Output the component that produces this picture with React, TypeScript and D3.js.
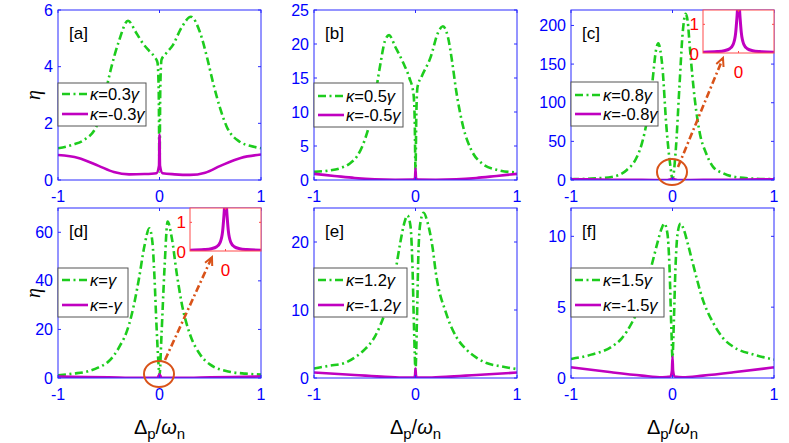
import React from "react";
import * as d3 from "d3";

// panel letters and coupling labels
const panelLetters = ["a", "b", "c", "d", "e", "f"];
const kappaLabels = ["0.3", "0.5", "0.8", "", "1.2", "1.5"];
const yMaxima = [6, 25, 220, 70, 25, 12];
const yTickSets = [
  [0, 2, 4, 6],
  [0, 5, 10, 15, 20, 25],
  [0, 50, 100, 150, 200],
  [0, 20, 40, 60],
  [0, 10, 20],
  [0, 5, 10],
];
const xTicks = [-1, 0, 1];

// eta vs Delta_p/omega_n, kappa > 0 (green, dash-dot)
const greenA = [[-1, 1.12], [-0.85, 1.25], [-0.75, 1.4], [-0.62, 1.9], [-0.55, 2.8], [-0.48, 3.9], [-0.4, 4.9], [-0.31, 5.62], [-0.23, 5.2], [-0.16, 4.8], [-0.1, 4.55], [-0.05, 4.35], [-0.02, 4.15], [-0.008, 3.2], [0, 0.3], [0.008, 3.3], [0.02, 4.25], [0.06, 4.45], [0.13, 4.75], [0.22, 5.4], [0.31, 5.76], [0.4, 5.2], [0.47, 4.3], [0.53, 3.4], [0.6, 2.5], [0.66, 1.9], [0.79, 1.35], [0.9, 1.2], [1, 1.12]];
const greenB = [[-1, 1.2], [-0.85, 1.4], [-0.75, 1.7], [-0.65, 2.4], [-0.58, 3.4], [-0.5, 5.9], [-0.42, 10.3], [-0.35, 16.7], [-0.3, 20.5], [-0.26, 21.3], [-0.2, 19.6], [-0.12, 17.2], [-0.06, 15], [-0.02, 12.7], [-0.008, 9], [0, 1.5], [0.008, 9.5], [0.02, 13.7], [0.06, 15.2], [0.15, 18.1], [0.22, 21.6], [0.27, 22.6], [0.32, 21], [0.36, 17.5], [0.4, 13.2], [0.47, 7.8], [0.55, 4.4], [0.65, 2.5], [0.8, 1.5], [1, 1.1]];
const greenC = [[-1, 1], [-0.8, 1.8], [-0.6, 4], [-0.45, 13], [-0.35, 30], [-0.3, 48], [-0.25, 78], [-0.2, 125], [-0.16, 170], [-0.14, 177], [-0.12, 168], [-0.1, 147], [-0.06, 69], [-0.02, 17], [0, 1], [0.03, 35], [0.07, 125], [0.1, 190], [0.13, 215], [0.15, 205], [0.17, 173], [0.22, 104], [0.27, 60], [0.33, 35], [0.4, 17], [0.5, 8.7], [0.6, 4.3], [0.8, 1.8], [1, 1]];
const greenD = [[-1, 1.1], [-0.85, 1.8], [-0.7, 2.8], [-0.6, 4.4], [-0.5, 6.9], [-0.4, 12.5], [-0.3, 22], [-0.25, 30.5], [-0.2, 41.5], [-0.15, 54], [-0.1, 61.6], [-0.07, 56], [-0.05, 42], [-0.03, 22], [-0.01, 6], [0, 1], [0.02, 18], [0.05, 45.7], [0.08, 64.4], [0.12, 58], [0.17, 43], [0.22, 30.5], [0.3, 18], [0.4, 9.7], [0.5, 5.5], [0.7, 2.5], [0.85, 1.8], [1, 1.4]];
const greenE = [[-1, 1.4], [-0.85, 1.8], [-0.7, 2.2], [-0.6, 3], [-0.5, 4.2], [-0.4, 6.1], [-0.3, 9.6], [-0.25, 12], [-0.2, 15.5], [-0.15, 19.9], [-0.11, 22.8], [-0.08, 23.9], [-0.05, 22.4], [-0.03, 16.5], [-0.015, 7.6], [0, 1.2], [0.015, 9], [0.03, 19], [0.05, 23], [0.08, 24.3], [0.12, 22.8], [0.17, 19], [0.2, 15.5], [0.3, 9.6], [0.4, 6.1], [0.5, 4.2], [0.6, 3], [0.7, 2.2], [0.85, 1.7], [1, 1.3]];
const greenF = [[-1, 1.34], [-0.8, 1.65], [-0.6, 2.2], [-0.5, 2.8], [-0.4, 3.9], [-0.3, 5.5], [-0.2, 8.1], [-0.15, 9.5], [-0.11, 10.5], [-0.08, 10.9], [-0.05, 10.2], [-0.03, 7.9], [-0.01, 3.2], [0, 1.4], [0.01, 3.2], [0.03, 7.9], [0.05, 10.2], [0.08, 10.9], [0.11, 10.5], [0.15, 9.5], [0.2, 8.1], [0.3, 5.5], [0.4, 3.9], [0.5, 2.8], [0.6, 2.2], [0.8, 1.65], [1, 1.3]];

// kappa < 0 (magenta, solid)
const magentaA = [[-1, 0.88], [-0.8, 0.78], [-0.6, 0.5], [-0.45, 0.28], [-0.3, 0.2], [-0.15, 0.21], [-0.03, 0.24], [-0.005, 0.5], [0, 1.6], [0.005, 0.5], [0.03, 0.24], [0.15, 0.2], [0.3, 0.18], [0.45, 0.26], [0.6, 0.5], [0.8, 0.78], [1, 0.9]];
const magentaB = [[-1, 0.9], [-0.8, 0.6], [-0.6, 0.3], [-0.4, 0.1], [-0.2, 0.03], [-0.02, 0.05], [-0.005, 0.3], [0, 1.7], [0.005, 0.3], [0.02, 0.05], [0.2, 0.03], [0.4, 0.1], [0.6, 0.3], [0.8, 0.6], [1, 0.9]];
const magentaC = [[-1, 1], [-0.6, 0.4], [-0.3, 0.1], [-0.05, 0.05], [0, 1.5], [0.05, 0.05], [0.3, 0.1], [0.6, 0.4], [1, 1]];
const magentaD = [[-1, 0.6], [-0.5, 0.25], [-0.2, 0.05], [-0.02, 0.1], [0, 1.5], [0.02, 0.1], [0.2, 0.05], [0.5, 0.25], [1, 0.6]];
const magentaE = [[-1, 0.8], [-0.6, 0.45], [-0.3, 0.18], [-0.1, 0.05], [-0.01, 0.1], [-0.004, 0.5], [0, 1.4], [0.004, 0.5], [0.01, 0.1], [0.1, 0.05], [0.3, 0.18], [0.6, 0.45], [1, 0.8]];
const magentaF = [[-1, 0.75], [-0.6, 0.4], [-0.3, 0.17], [-0.1, 0.05], [-0.02, 0.1], [-0.006, 0.5], [0, 1.5], [0.006, 0.5], [0.02, 0.1], [0.1, 0.05], [0.3, 0.17], [0.6, 0.4], [1, 0.75]];

// zoomed view of the kappa<0 peak (insets of c and d)
const insetPeak = [[-0.1, 0.03], [-0.06, 0.05], [-0.04, 0.08], [-0.025, 0.15], [-0.015, 0.3], [-0.008, 0.7], [-0.004, 1.3], [0, 2], [0.004, 1.3], [0.008, 0.7], [0.015, 0.3], [0.025, 0.15], [0.04, 0.08], [0.06, 0.05], [0.1, 0.03]];
const insetXDomain = [-0.1, 0.1];
const insetYDomain = [0, 1.5];

const greens = [greenA, greenB, greenC, greenD, greenE, greenF];
const magentas = [magentaA, magentaB, magentaC, magentaD, magentaE, magentaF];

// layout
const W = 789;
const H = 443;
const COLS = [58, 314, 571];
const ROWS = [10, 208];
const PW = 203;
const PH = 170;
const LEGENDS = [
  { top: 73, w: 88, h: 43, r1: 11, r2: 31 },
  { top: 73, w: 89, h: 44, r1: 13, r2: 32 },
  { top: 72, w: 87, h: 44, r1: 13, r2: 32 },
  { top: 60, w: 70, h: 49, r1: 12, r2: 37 },
  { top: 60, w: 93, h: 49, r1: 12, r2: 37 },
  { top: 60, w: 93, h: 49, r1: 12, r2: 37 },
];
const ANNOT: Record<number, { cx: number; cy: number; x1: number; y1: number; x2: number; y2: number }> = {
  2: { cx: 101, cy: 162, x1: 107, y1: 157, x2: 152, y2: 48 },
  3: { cx: 101, cy: 166, x1: 107, y1: 152, x2: 154, y2: 49 },
};

const FONT = "'Liberation Sans', Arial, Helvetica, sans-serif";
const AXIS = "#2b2bff";
const TICKTXT = "#0000ff";
const GREEN = "#1dcc1d";
const MAGENTA = "#c000c0";
const ORANGE = "#d95319";
const INSET_RED = "#ff4a4a";

const Inset: React.FC<{ x0: number; y0: number; w: number; h: number; id: string }> = ({ x0, y0, w, h, id }) => {
  const xs = d3.scaleLinear().domain(insetXDomain).range([x0, x0 + w]);
  const ys = d3.scaleLinear().domain(insetYDomain).range([y0 + h, y0]);
  const line = d3
    .line<number[]>()
    .x((d) => xs(d[0]))
    .y((d) => ys(d[1]))
    .curve(d3.curveMonotoneX);
  return (
    <g>
      <clipPath id={id}>
        <rect x={x0} y={y0} width={w} height={h} />
      </clipPath>
      <rect x={x0} y={y0} width={w} height={h} fill="#fff" />
      <path d={line(insetPeak) || ""} fill="none" stroke={MAGENTA} strokeWidth={3} clipPath={`url(#${id})`} />
      <rect x={x0} y={y0} width={w} height={h} fill="none" stroke={INSET_RED} strokeWidth={1} />
      <line x1={xs(0)} x2={xs(0)} y1={y0 + h} y2={y0 + h - 2} stroke={INSET_RED} />
      <line x1={xs(0)} x2={xs(0)} y1={y0} y2={y0 + 2} stroke={INSET_RED} />
      <line x1={x0} x2={x0 + 2} y1={ys(1)} y2={ys(1)} stroke={INSET_RED} />
      <line x1={x0 + w} x2={x0 + w - 2} y1={ys(1)} y2={ys(1)} stroke={INSET_RED} />
      <g fill="#ff0000" fontSize={17} fontFamily={FONT}>
        <text x={x0 - 4} y={ys(1)} textAnchor="end" dominantBaseline="central">1</text>
        <text x={x0 - 4} y={ys(0) + 1} textAnchor="end" dominantBaseline="central">0</text>
        <text x={xs(0)} y={y0 + h + 19} textAnchor="middle" dominantBaseline="central">0</text>
      </g>
    </g>
  );
};

const Panel: React.FC<{ i: number }> = ({ i }) => {
  const left = COLS[i % 3];
  const top = ROWS[Math.floor(i / 3)];
  const right = left + PW;
  const bottom = top + PH;
  const x = d3.scaleLinear().domain([-1, 1]).range([left, right]);
  const y = d3.scaleLinear().domain([0, yMaxima[i]]).range([bottom, top]);
  const line = d3
    .line<number[]>()
    .x((d) => x(d[0]))
    .y((d) => y(d[1]))
    .curve(d3.curveMonotoneX);
  const clipId = `clip-${i}`;
  const lg = LEGENDS[i];
  const lx = left;
  const ly = top + lg.top;
  const k = kappaLabels[i];
  const an = ANNOT[i];

  return (
    <g>
      <clipPath id={clipId}>
        <rect x={left} y={top} width={PW} height={PH} />
      </clipPath>
      <g clipPath={`url(#${clipId})`}>
        <path d={line(greens[i]) || ""} fill="none" stroke={GREEN} strokeWidth={2.6} strokeDasharray="8,3.5,2,3.5" />
        <path d={line(magentas[i]) || ""} fill="none" stroke={MAGENTA} strokeWidth={2.6} />
      </g>
      {/* axes box */}
      <rect x={left} y={top} width={PW} height={PH} fill="none" stroke={AXIS} strokeWidth={1} />
      {yTickSets[i].map((t) => (
        <g key={`y${t}`}>
          <line x1={left} x2={left + 3} y1={y(t)} y2={y(t)} stroke={AXIS} />
          <line x1={right} x2={right - 3} y1={y(t)} y2={y(t)} stroke={AXIS} />
          <text x={left - 5} y={y(t)} textAnchor="end" dominantBaseline="central" fill={TICKTXT} fontSize={16} fontFamily={FONT}>
            {t}
          </text>
        </g>
      ))}
      {xTicks.map((t) => (
        <g key={`x${t}`}>
          <line x1={x(t)} x2={x(t)} y1={bottom} y2={bottom - 3} stroke={AXIS} />
          <line x1={x(t)} x2={x(t)} y1={top} y2={top + 3} stroke={AXIS} />
          <text x={x(t)} y={bottom + 16} textAnchor="middle" dominantBaseline="central" fill={TICKTXT} fontSize={16} fontFamily={FONT}>
            {t === -1 ? "-1" : t}
          </text>
        </g>
      ))}
      <text x={left + 11} y={top + 29} fontSize={17} fontFamily={FONT} fill="#000">
        [{panelLetters[i]}]
      </text>
      {/* legend */}
      <g fontFamily={FONT} fontSize={16.5} fill="#000">
        <rect x={lx} y={ly} width={lg.w} height={lg.h} fill="#fff" stroke="#555" strokeWidth={1} />
        <line x1={lx + 4} x2={lx + 30} y1={ly + lg.r1} y2={ly + lg.r1} stroke={GREEN} strokeWidth={2.6} strokeDasharray="8,3.5,2,3.5" />
        <line x1={lx + 4} x2={lx + 30} y1={ly + lg.r2} y2={ly + lg.r2} stroke={MAGENTA} strokeWidth={2.6} />
        <text x={lx + 32} y={ly + lg.r1} dominantBaseline="central">
          <tspan fontStyle="italic">κ</tspan>={k}
          <tspan fontStyle="italic">γ</tspan>
        </text>
        <text x={lx + 32} y={ly + lg.r2} dominantBaseline="central">
          <tspan fontStyle="italic">κ</tspan>=-{k}
          <tspan fontStyle="italic">γ</tspan>
        </text>
      </g>
      {an && (
        <g>
          <ellipse cx={left + an.cx} cy={top + an.cy} rx={15} ry={13} fill="none" stroke={ORANGE} strokeWidth={2} />
          <line x1={left + an.x1} y1={top + an.y1} x2={left + an.x2} y2={top + an.y2} stroke={ORANGE} strokeWidth={2.6} strokeDasharray="7,3,2,3" />
          {(() => {
            const ang = Math.atan2(an.y2 - an.y1, an.x2 - an.x1);
            const tx = left + an.x2;
            const ty = top + an.y2;
            const L = 9;
            const a1 = ang + Math.PI - 0.45;
            const a2 = ang + Math.PI + 0.45;
            return (
              <path
                d={`M${tx + L * Math.cos(a1)},${ty + L * Math.sin(a1)}L${tx},${ty}L${tx + L * Math.cos(a2)},${ty + L * Math.sin(a2)}`}
                fill="none"
                stroke={ORANGE}
                strokeWidth={2}
              />
            );
          })()}
          <Inset x0={right - 71} y0={top} w={71} h={43} id={`inset-${i}`} />
        </g>
      )}
      {/* x label on bottom row */}
      {i >= 3 && (
        <text x={(left + right) / 2} y={434} textAnchor="middle" fontSize={20} fontFamily={FONT} fill="#000">
          Δ<tspan fontSize={15} dy={5}>p</tspan>
          <tspan dy={-5}>/</tspan>
          <tspan fontStyle="italic">ω</tspan>
          <tspan fontSize={15} dy={5}>n</tspan>
        </text>
      )}
      {/* y label on left column */}
      {i % 3 === 0 && (
        <text
          transform={`translate(33,${(top + bottom) / 2}) rotate(-90)`}
          textAnchor="middle"
          dominantBaseline="central"
          fontSize={20}
          fontStyle="italic"
          fontFamily="'Liberation Serif', 'Times New Roman', serif"
          fill="#000"
        >
          η
        </text>
      )}
    </g>
  );
};

export default function App() {
  return (
    <svg width={W} height={H} style={{ position: "absolute", left: 0, top: 0, background: "#fff" }}>
      <rect width={W} height={H} fill="#fff" />
      {panelLetters.map((_, i) => (
        <Panel key={i} i={i} />
      ))}
    </svg>
  );
}
